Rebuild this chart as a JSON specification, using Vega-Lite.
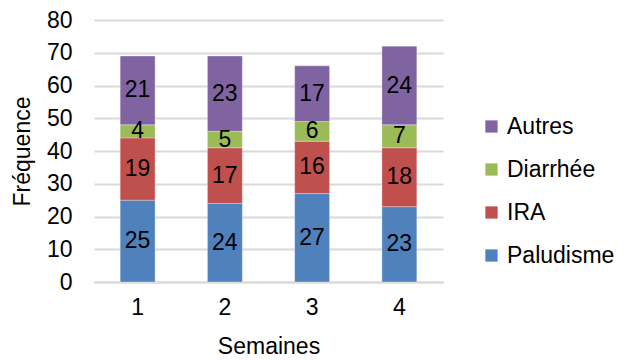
{
  "$schema": "https://vega.github.io/schema/vega-lite/v6.json",
  "autosize": {"type": "none"},
  "width": 349,
  "height": 262,
  "padding": {"left": 94, "top": 20, "right": 183, "bottom": 78},
  "background": "white",
  "config": {
    "font": "Liberation Sans",
    "view": {"stroke": null},
    "axis": {"labelFont": "Liberation Sans", "titleFont": "Liberation Sans", "labelColor": "#000000", "titleColor": "#000000", "titleFontWeight": "normal", "labelFontSize": 23, "titleFontSize": 23}
  },
  "data": {
    "values": [
      {"semaine": "1", "categorie": "Paludisme", "n": 25},
      {"semaine": "1", "categorie": "IRA", "n": 19},
      {"semaine": "1", "categorie": "Diarrhée", "n": 4},
      {"semaine": "1", "categorie": "Autres", "n": 21},
      {"semaine": "2", "categorie": "Paludisme", "n": 24},
      {"semaine": "2", "categorie": "IRA", "n": 17},
      {"semaine": "2", "categorie": "Diarrhée", "n": 5},
      {"semaine": "2", "categorie": "Autres", "n": 23},
      {"semaine": "3", "categorie": "Paludisme", "n": 27},
      {"semaine": "3", "categorie": "IRA", "n": 16},
      {"semaine": "3", "categorie": "Diarrhée", "n": 6},
      {"semaine": "3", "categorie": "Autres", "n": 17},
      {"semaine": "4", "categorie": "Paludisme", "n": 23},
      {"semaine": "4", "categorie": "IRA", "n": 18},
      {"semaine": "4", "categorie": "Diarrhée", "n": 7},
      {"semaine": "4", "categorie": "Autres", "n": 24}
    ]
  },
  "transform": [
    {"stack": "n", "groupby": ["semaine"], "sort": [{"field": "categorie", "order": "descending"}], "as": ["bas", "haut"]},
    {"calculate": "(datum.bas + datum.haut) / 2", "as": "milieu"}
  ],
  "encoding": {
    "x": {
      "field": "semaine", "type": "nominal", "title": "Semaines",
      "scale": {"paddingInner": 0.6, "paddingOuter": 0.3},
      "axis": {"labelAngle": 0, "ticks": false, "domain": true, "domainColor": "#d9d9d9", "domainWidth": 2, "labelPadding": 14, "titlePadding": 16}
    }
  },
  "layer": [
    {
      "mark": {"type": "bar", "stroke": "#ffffff", "strokeWidth": 0.5, "strokeOpacity": 0.6},
      "encoding": {
        "y": {
          "field": "bas", "type": "quantitative", "title": "Fréquence",
          "scale": {"domain": [0, 80]},
          "axis": {"values": [0, 10, 20, 30, 40, 50, 60, 70, 80], "ticks": false, "domain": false, "grid": true, "gridColor": "#d9d9d9", "gridWidth": 2, "labelPadding": 22, "titlePadding": 12}
        },
        "y2": {"field": "haut"},
        "color": {
          "field": "categorie", "type": "nominal",
          "scale": {"domain": ["Autres", "Diarrhée", "IRA", "Paludisme"], "range": ["#8064A2", "#9BBB59", "#C0504D", "#4F81BD"]},
          "legend": {
            "title": null, "orient": "none", "legendX": 386, "legendY": 95,
            "symbolType": "square", "symbolSize": 150, "symbolStrokeWidth": 0,
            "labelFont": "Liberation Sans", "labelFontSize": 23, "labelColor": "#000000",
            "rowPadding": 19, "labelOffset": 4
          }
        }
      }
    },
    {
      "mark": {"type": "text", "fontSize": 23, "color": "#000000", "font": "Liberation Sans", "baseline": "middle"},
      "encoding": {
        "y": {
          "field": "milieu", "type": "quantitative", "title": "Fréquence",
          "scale": {"domain": [0, 80]},
          "axis": {"values": [0, 10, 20, 30, 40, 50, 60, 70, 80], "ticks": false, "domain": false, "grid": true, "gridColor": "#d9d9d9", "gridWidth": 2, "labelPadding": 22, "titlePadding": 12}
        },
        "text": {"field": "n", "type": "quantitative"}
      }
    }
  ]
}
